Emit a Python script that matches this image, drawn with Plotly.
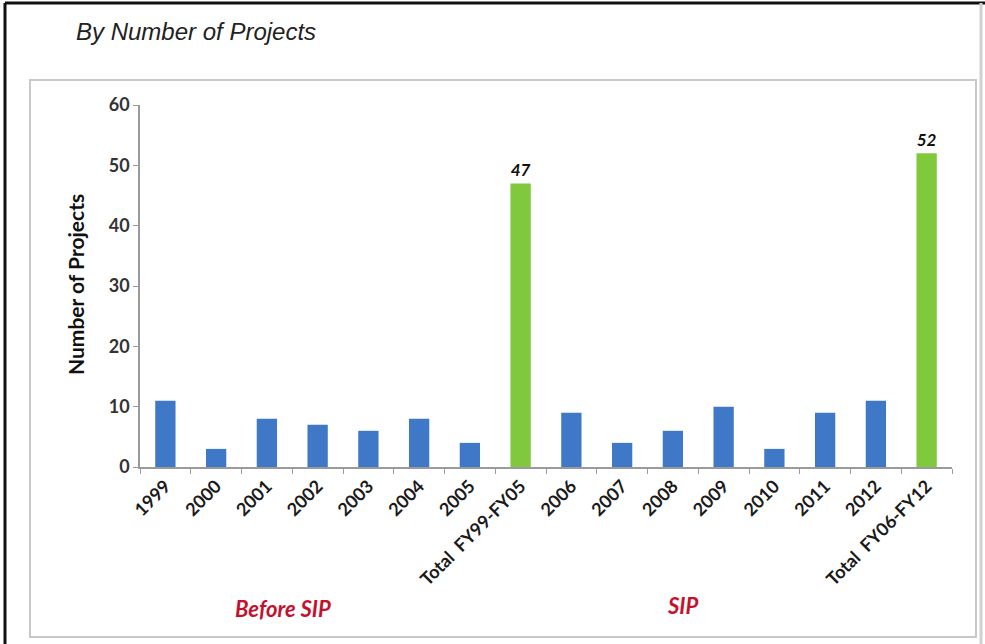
import plotly.graph_objects as go

categories = ["1999", "2000", "2001", "2002", "2003", "2004", "2005", "Total  FY99-FY05",
              "2006", "2007", "2008", "2009", "2010", "2011", "2012", "Total  FY06-FY12"]
projects = [11, 3, 8, 7, 6, 8, 4, 47, 9, 4, 6, 10, 3, 9, 11, 52]
is_total = [c.startswith("Total") for c in categories]
y_ticks = [0, 10, 20, 30, 40, 50, 60]

BLUE = "#3f78c6"
GREEN = "#80c83c"

W, H = 985, 644
L, R, T, B = 140, 33, 105, 177
pw, ph = W - L - R, H - T - B


def px(x):
    return (x - L) / pw


def py(y):
    return (H - B - y) / ph


colors = [GREEN if t else BLUE for t in is_total]
labels = [str(v) if t else "" for v, t in zip(projects, is_total)]

fig = go.Figure(go.Bar(
    x=categories, y=projects,
    marker=dict(color=colors, line=dict(width=0)),
    text=labels, textposition="outside", cliponaxis=False,
    textfont=dict(family="Lato, Open Sans, sans-serif", size=17, color="#111",
                  weight="bold", style="italic"),
))

fig.update_layout(
    width=W, height=H,
    margin=dict(l=L, r=R, t=T, b=B),
    paper_bgcolor="white", plot_bgcolor="white",
    bargap=0.6, showlegend=False,
    font=dict(family="Lato, Open Sans, sans-serif", color="#333"),
)
fig.update_xaxes(
    type="category", showline=True, linecolor="#9a9a9a", linewidth=1.5,
    ticks="outside", tickson="boundaries", ticklen=5, tickcolor="#9a9a9a",
    tickangle=-45, tickfont=dict(size=18, weight="bold", color="#1a1a1a"),
    showgrid=False,
)
fig.update_yaxes(
    range=[0, 60], tickvals=y_ticks, showline=True, linecolor="#9a9a9a", linewidth=1.5,
    ticks="outside", ticklen=5, tickcolor="#9a9a9a", showgrid=False, zeroline=False,
    tickfont=dict(size=18, weight="bold", color="#333"),
)

annotations = [
    dict(text="By Number of Projects", x=px(74), y=py(32), xref="paper", yref="paper",
         xanchor="left", yanchor="middle", showarrow=False,
         font=dict(family="Liberation Sans, Arial, sans-serif", size=24, color="#222", style="italic")),
    dict(text="Number of Projects", x=px(75), y=py(285), xref="paper", yref="paper",
         textangle=-90, xanchor="center", yanchor="middle", showarrow=False,
         font=dict(size=21, weight="bold", color="#111")),
    dict(text="Before SIP", x=px(283), y=py(608), xref="paper", yref="paper",
         xanchor="center", yanchor="middle", showarrow=False,
         font=dict(size=22, weight="bold", style="italic", color="#c4122e")),
    dict(text="SIP", x=px(683), y=py(605), xref="paper", yref="paper",
         xanchor="center", yanchor="middle", showarrow=False,
         font=dict(size=22, weight="bold", style="italic", color="#c4122e")),
]
fig.update_layout(annotations=annotations)

shapes = [
    # outer black frame (left and top)
    dict(type="line", xref="paper", yref="paper", x0=px(5), x1=px(5), y0=py(3), y1=py(644),
         line=dict(color="#111", width=3)),
    dict(type="line", xref="paper", yref="paper", x0=px(5), x1=px(985), y0=py(3), y1=py(3),
         line=dict(color="#111", width=3)),
    # faint outer right edge
    dict(type="line", xref="paper", yref="paper", x0=px(981), x1=px(981), y0=py(3), y1=py(644),
         line=dict(color="#d0d0d0", width=3)),
    # inner chart box
    dict(type="rect", xref="paper", yref="paper", x0=px(30), x1=px(976), y0=py(80), y1=py(637),
         line=dict(color="#c8c8c8", width=2), layer="below"),
]
fig.update_layout(shapes=shapes)

fig.write_html("out.html", config={"displayModeBar": False},
               post_script="document.body.style.margin='0';document.body.style.overflow='hidden';")
